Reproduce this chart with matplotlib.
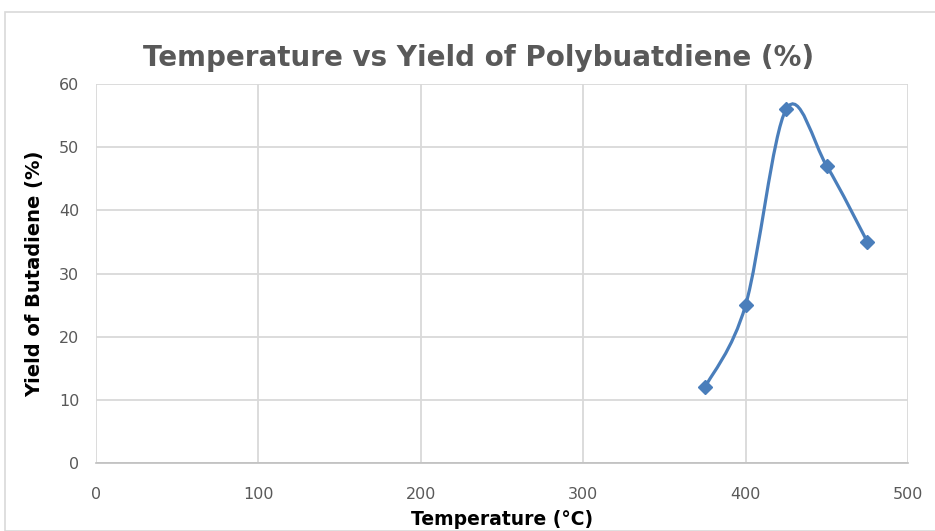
import matplotlib
matplotlib.use("Agg")
import matplotlib.pyplot as plt
from matplotlib.path import Path
from matplotlib.patches import PathPatch, Rectangle
import numpy as np

temps = [375, 400, 425, 450, 475]
yields = [12, 25, 56, 47, 35]
xticks = [0, 100, 200, 300, 400, 500]
yticks = [0, 10, 20, 30, 40, 50, 60]

plt.rcParams['font.family'] = ['DejaVu Sans']

fig = plt.figure(figsize=(9.35, 5.31), dpi=100)
fig.patches.append(Rectangle((5/935, 0), 1, 1 - 12/531, transform=fig.transFigure,
                             fill=False, edgecolor='#d9d9d9', lw=1.2))
ax = fig.add_axes([96/935, 68/531, 812/935, 379/531])

# Excel-style smoothed line (cardinal spline as bezier pieces)
pts = np.column_stack([temps, yields]).astype(float)
ext = np.vstack([pts[0], pts, pts[-1]])
verts = [pts[0]]
codes = [Path.MOVETO]
for i in range(len(pts) - 1):
    p0, p1, p2, p3 = ext[i], ext[i + 1], ext[i + 2], ext[i + 3]
    c1 = p1 + (p2 - p0) / 6
    c2 = p2 - (p3 - p1) / 6
    verts += [c1, c2, p2]
    codes += [Path.CURVE4] * 3
ax.add_patch(PathPatch(Path(verts, codes), fill=False, edgecolor='#4a7ebb', lw=2.3, zorder=3,
                       capstyle='round'))
ax.plot(temps, yields, linestyle='none', marker='D', markersize=7.5, color='#4a7ebb', zorder=4)

ax.set_xlim(0, 500)
ax.set_ylim(0, 60)
ax.set_xticks(xticks)
ax.set_yticks(yticks)
ax.grid(True, color='#d9d9d9', lw=1.3)
ax.set_axisbelow(True)
for s in ['top', 'right', 'left']:
    ax.spines[s].set_visible(False)
ax.spines['bottom'].set_color('#bfbfbf')
ax.spines['bottom'].set_linewidth(1.2)
ax.tick_params(length=0, labelsize=11.5, labelcolor='#595959', pad=12)
ax.tick_params(axis='x', pad=17)

ax.set_title('Temperature vs Yield of Polybuatdiene (%)', fontsize=20, fontweight='bold',
             color='#595959', pad=13, x=(479 - 96) / 812)
ax.set_xlabel('Temperature (°C)', fontsize=13.5, fontweight='bold', labelpad=6)
ax.set_ylabel('Yield of Butadiene (%)', fontsize=14, fontweight='bold', labelpad=11)

fig.savefig('out.png', dpi=100)
